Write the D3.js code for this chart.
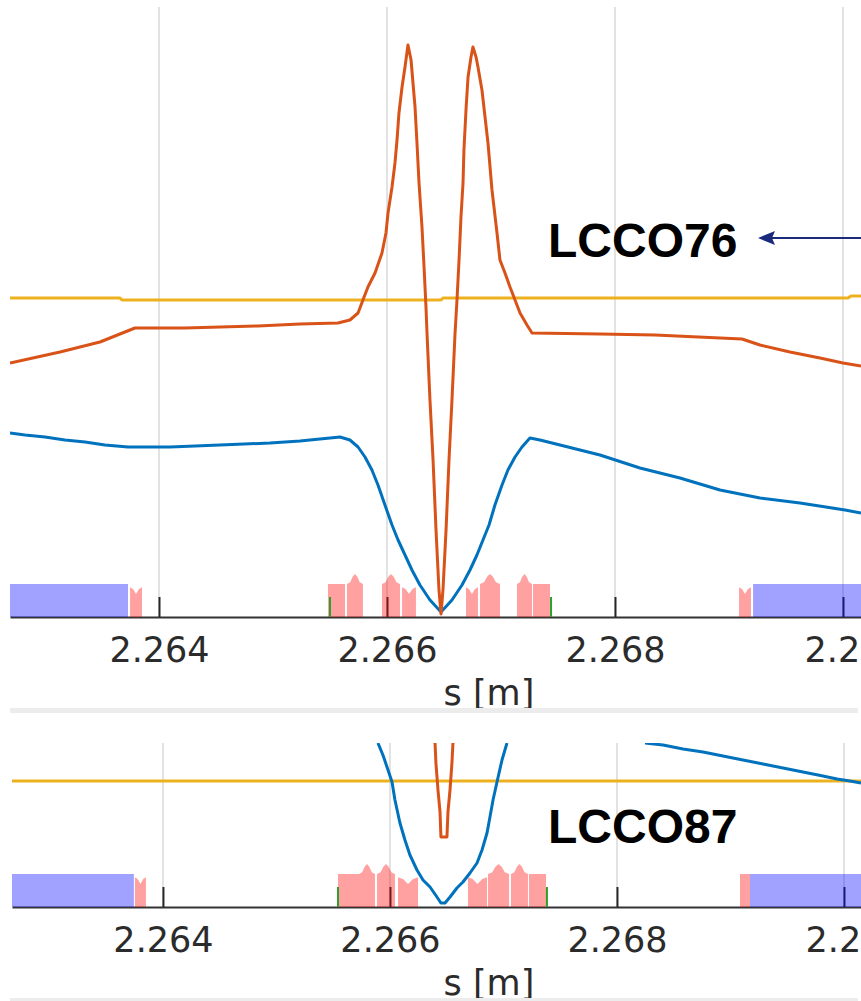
<!DOCTYPE html>
<html>
<head>
<meta charset="utf-8">
<script src="https://cdn.jsdelivr.net/npm/d3@7"></script>
<style>
  html, body { margin: 0; padding: 0; background: #fff; }
  svg { display: block; }
</style>
</head>
<body>
<div id="chart"></div>
<script>
// ---------- data ----------
const tickValues = [2.264, 2.266, 2.268, 2.270];
const tickLabels = ['2.264', '2.266', '2.268', '2.27'];

// LCCO76 (upper panel), [s in m, value]
const topOrange = [
  [2.262693, 31.9], [2.263658, 31.9], [2.263675, 31.7], [2.266474, 31.7],
  [2.266491, 31.9], [2.270044, 31.9], [2.270070, 32.1], [2.270158, 32.1]
];
const topRed = [
  [2.262693, 25.4], [2.263132, 26.5], [2.263482, 27.5], [2.263789, 28.9], [2.264228, 28.9],
  [2.264868, 29.1], [2.265237, 29.3], [2.265570, 29.4], [2.265675, 29.7], [2.265746, 30.4],
  [2.265789, 31.7], [2.265833, 33.0], [2.265895, 34.4], [2.265956, 36.4], [2.265991, 38.4],
  [2.266009, 40.4], [2.266044, 43.0], [2.266070, 45.4], [2.266088, 47.7], [2.266105, 50.4],
  [2.266132, 53.0], [2.266158, 55.0], [2.266184, 57.2], [2.266211, 55.7], [2.266228, 53.4],
  [2.266246, 51.0], [2.266263, 47.4], [2.266281, 43.4], [2.266307, 39.0], [2.266325, 35.0],
  [2.266342, 31.0], [2.266351, 28.4], [2.266377, 21.7], [2.266404, 15.7], [2.266430, 8.7],
  [2.266456, 2.7], [2.266474, 0.3], [2.266491, 2.7], [2.266518, 8.7], [2.266544, 15.7],
  [2.266570, 21.7], [2.266597, 28.4], [2.266614, 31.7], [2.266632, 35.7], [2.266649, 40.0],
  [2.266667, 43.4], [2.266675, 46.7], [2.266693, 50.7], [2.266711, 54.0], [2.266737, 56.0],
  [2.266754, 57.0], [2.266781, 56.0], [2.266798, 55.0], [2.266833, 52.7], [2.266860, 50.0],
  [2.266886, 47.4], [2.266921, 42.7], [2.266965, 38.4], [2.266991, 35.7], [2.267035, 34.4],
  [2.267079, 33.0], [2.267123, 31.7], [2.267167, 30.4], [2.267228, 29.2], [2.267272, 28.4],
  [2.267868, 28.3], [2.268351, 28.2], [2.269114, 27.8], [2.269272, 27.2], [2.269535, 26.5],
  [2.269798, 25.9], [2.270000, 25.4], [2.270158, 25.1]
];
const topBlue = [
  [2.262693, 18.4], [2.262825, 18.2], [2.263000, 18.0], [2.263175, 17.7], [2.263351, 17.5],
  [2.263526, 17.2], [2.263728, 17.0], [2.264096, 17.0], [2.264535, 17.2], [2.264974, 17.4],
  [2.265237, 17.6], [2.265588, 18.0], [2.265675, 17.7], [2.265746, 17.0], [2.265807, 16.0],
  [2.265868, 14.7], [2.265921, 13.2], [2.265982, 11.2], [2.266044, 9.2], [2.266097, 7.7],
  [2.266158, 6.2], [2.266219, 4.7], [2.266289, 3.2], [2.266377, 1.7], [2.266474, 0.5],
  [2.266570, 1.7], [2.266658, 3.2], [2.266728, 4.7], [2.266789, 6.2], [2.266842, 7.7],
  [2.266895, 9.2], [2.266947, 11.2], [2.267009, 13.2], [2.267061, 14.7], [2.267123, 16.0],
  [2.267184, 17.0], [2.267254, 17.9], [2.267342, 17.7], [2.267518, 17.2], [2.267868, 16.2],
  [2.268219, 14.9], [2.268570, 13.9], [2.268921, 12.7], [2.269272, 11.9], [2.269623, 11.4],
  [2.270018, 10.7], [2.270158, 10.4]
];
const topMagnets = [
  { kind: 'dipole', s0: 2.2625, s1: 2.263728 },
  { kind: 'notch', s0: 2.263746, s1: 2.263851 },
  { kind: 'flat', s0: 2.265482, s1: 2.265632 },
  { kind: 'peak', s0: 2.265649, s1: 2.265789 },
  { kind: 'peak', s0: 2.265956, s1: 2.266114 },
  { kind: 'notch', s0: 2.266132, s1: 2.266254 },
  { kind: 'notch', s0: 2.266693, s1: 2.266798 },
  { kind: 'peak', s0: 2.266816, s1: 2.266991 },
  { kind: 'peak', s0: 2.267140, s1: 2.267272 },
  { kind: 'flat', s0: 2.267281, s1: 2.267430 },
  { kind: 'notch', s0: 2.269088, s1: 2.269193 },
  { kind: 'dipole', s0: 2.269211, s1: 2.2705 }
];
const topMarkers = [2.265500, 2.267439];

// LCCO87 (lower panel)
const bottomOrange = [[2.262670, 12.6], [2.270150, 12.6]];
const bottomRed = [
  [2.266397, 16.4], [2.266405, 14.4], [2.266423, 11.7], [2.266441, 9.5], [2.266449, 7.0],
  [2.266502, 7.0], [2.266511, 9.5], [2.266529, 11.7], [2.266546, 14.4], [2.266555, 16.4]
];
const bottomBlue = [
  [2.265894, 16.4], [2.265938, 15.2], [2.265974, 14.0], [2.266018, 12.5], [2.266044, 10.7],
  [2.266088, 8.4], [2.266132, 6.7], [2.266176, 5.2], [2.266238, 3.7], [2.266291, 2.7],
  [2.266353, 2.0], [2.266414, 1.0], [2.266449, 0.4], [2.266485, 0.4], [2.266529, 1.0],
  [2.266590, 1.9], [2.266643, 2.5], [2.266705, 3.4], [2.266767, 4.4], [2.266811, 5.7],
  [2.266855, 7.4], [2.266881, 9.0], [2.266908, 10.7], [2.266943, 12.5], [2.266987, 14.7],
  [2.267031, 16.4],
  null,
  [2.268247, 16.4], [2.268406, 16.2], [2.268582, 15.8], [2.268758, 15.5], [2.268934, 15.1],
  [2.269110, 14.7], [2.269287, 14.3], [2.269463, 13.9], [2.269639, 13.5], [2.269815, 13.1],
  [2.269939, 12.8], [2.270053, 12.6], [2.270150, 12.4]
];
const bottomMagnets = [
  { kind: 'dipole', s0: 2.2625, s1: 2.263744 },
  { kind: 'notch', s0: 2.263753, s1: 2.263850 },
  { kind: 'flat', s0: 2.265542, s1: 2.265727 },
  { kind: 'peak', s0: 2.265727, s1: 2.265868 },
  { kind: 'peak', s0: 2.265886, s1: 2.266044 },
  { kind: 'notch', s0: 2.266071, s1: 2.266247 },
  { kind: 'notch', s0: 2.266687, s1: 2.266855 },
  { kind: 'peak', s0: 2.266864, s1: 2.267049 },
  { kind: 'peak', s0: 2.267066, s1: 2.267216 },
  { kind: 'flat', s0: 2.267225, s1: 2.267375 },
  { kind: 'flat', s0: 2.269084, s1: 2.269172 },
  { kind: 'dipole', s0: 2.269172, s1: 2.2705 }
];
const bottomMarkers = [2.265542, 2.267383];

// ---------- drawing ----------
const W = 861, H = 1001;
const svg = d3.select('#chart').append('svg').attr('width', W).attr('height', H);

// relative outline of each element kind (fraction along element, height)
const profiles = {
  dipole: [[0, 1], [1, 1]],
  flat: [[0, 1], [1, 1]],
  peak: [[0, 1], [0.2, 1.05], [0.35, 1.22], [0.5, 1.3], [0.65, 1.22], [0.8, 1.05], [1, 1]],
  notch: [[0, 0.9], [0.25, 0.85], [0.5, 0.7], [0.75, 0.85], [1, 0.9]]
};

const panels = [
  { id: 'p76', name: 'LCCO76', sDomain: [2.262693, 2.270158], xRange: [10, 861], yDomain: [0, 61], yRange: [617, 7],
    orange: topOrange, red: topRed, blue: topBlue, magnets: topMagnets, markers: topMarkers,
    nameY: 257, arrow: true },
  { id: 'p87', name: 'LCCO87', sDomain: [2.262670, 2.270150], xRange: [12, 861], yDomain: [0, 16.4], yRange: [907, 743],
    orange: bottomOrange, red: bottomRed, blue: bottomBlue, magnets: bottomMagnets, markers: bottomMarkers,
    nameY: 843, arrow: false }
];

panels.forEach(p => {
  const x = d3.scaleLinear().domain(p.sDomain).range(p.xRange);
  const y = d3.scaleLinear().domain(p.yDomain).range(p.yRange);
  const hElem = d3.scaleLinear().domain([0, 1]).range([0, 33]);
  const base = p.yRange[0], top = p.yRange[1];
  const g = svg.append('g');

  svg.append('clipPath').attr('id', 'clip-' + p.id)
    .append('rect')
    .attr('x', p.xRange[0]).attr('y', top)
    .attr('width', p.xRange[1] - p.xRange[0]).attr('height', base - top + 2);

  // grid
  g.selectAll('line.grid').data(tickValues).join('line')
    .attr('x1', d => x(d)).attr('x2', d => x(d))
    .attr('y1', top).attr('y2', base)
    .attr('stroke', '#e2e2e2').attr('stroke-width', 2);

  // axis
  const axis = d3.axisBottom(x)
    .tickValues(tickValues)
    .tickFormat((d, i) => tickLabels[i])
    .tickSizeInner(-20).tickSizeOuter(0).tickPadding(20);
  const ax = g.append('g').attr('transform', `translate(0,${base})`).call(axis);
  ax.select('.domain').attr('stroke', '#333').attr('stroke-width', 2);
  ax.selectAll('.tick line').attr('stroke', '#262626').attr('stroke-width', 2);
  ax.selectAll('.tick text')
    .attr('fill', '#2b2b2b')
    .style('font-family', '"DejaVu Sans", sans-serif')
    .style('font-size', '35px');

  const plot = g.append('g').attr('clip-path', `url(#clip-${p.id})`);

  // lattice elements
  const elemLine = d3.line().x(d => x(d[0])).y(d => base - hElem(d[1]));
  plot.selectAll('path.elem').data(p.magnets).join('path')
    .attr('d', m => {
      const w = m.s1 - m.s0;
      const pts = [[m.s0, 0]].concat(profiles[m.kind].map(q => [m.s0 + q[0] * w, q[1]]), [[m.s1, 0]]);
      return elemLine(pts) + 'Z';
    })
    .attr('fill', m => m.kind === 'dipole' ? '#0000ff' : '#ff0000')
    .attr('fill-opacity', 0.37);

  plot.selectAll('line.marker').data(p.markers).join('line')
    .attr('x1', d => x(d)).attr('x2', d => x(d))
    .attr('y1', base).attr('y2', base - 20)
    .attr('stroke', '#2ca02c').attr('stroke-width', 2);

  // optics curves
  const line = d3.line().defined(d => d != null).x(d => x(d[0])).y(d => y(d[1]));
  [[p.orange, '#EDB120'], [p.blue, '#0072BD'], [p.red, '#D95319']].forEach(([data, color]) => {
    plot.append('path').datum(data)
      .attr('d', line)
      .attr('fill', 'none')
      .attr('stroke', color)
      .attr('stroke-width', 3)
      .attr('stroke-linejoin', 'round');
  });

  // axis title
  g.append('text')
    .attr('x', 489).attr('y', base + 88)
    .attr('text-anchor', 'middle')
    .attr('fill', '#2b2b2b')
    .style('font-family', '"DejaVu Sans", sans-serif')
    .style('font-size', '35px')
    .text('s [m]');

  // lattice name
  g.append('text')
    .attr('x', 548).attr('y', p.nameY)
    .style('font-family', '"Liberation Sans", Arial, sans-serif')
    .style('font-weight', 'bold')
    .style('font-size', '48px')
    .attr('fill', '#000')
    .text(p.name);

  if (p.arrow) {
    const ay = p.nameY - 19;
    g.append('line')
      .attr('x1', 866).attr('x2', 770).attr('y1', ay).attr('y2', ay)
      .attr('stroke', '#1a2a7c').attr('stroke-width', 2);
    g.append('path')
      .attr('d', `M758,${ay} L775,${ay - 7} L772,${ay} L775,${ay + 7} Z`)
      .attr('fill', '#1a2a7c');
  }
});

// separator bands of the figure crop
svg.append('rect').attr('x', 10).attr('y', 708).attr('width', 848).attr('height', 5).attr('fill', '#ececec');
svg.append('rect').attr('x', 0).attr('y', 713).attr('width', W).attr('height', 28).attr('fill', '#fff');
svg.append('rect').attr('x', 10).attr('y', 998).attr('width', 848).attr('height', 3).attr('fill', '#ececec');
</script>
</body>
</html>
